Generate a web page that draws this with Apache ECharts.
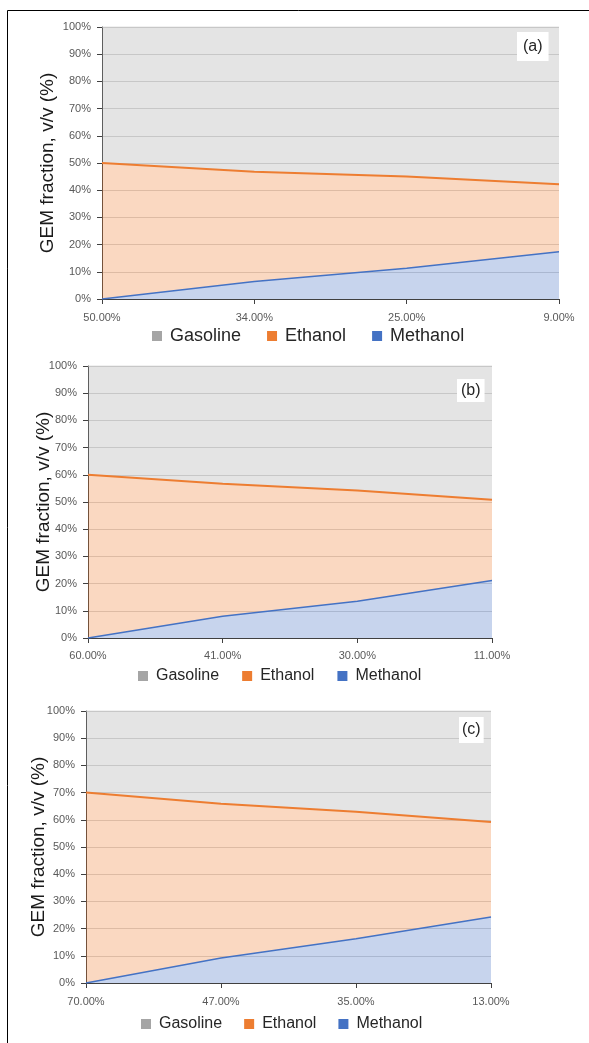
<!DOCTYPE html>
<html>
<head>
<meta charset="utf-8">
<script src="https://cdn.jsdelivr.net/npm/echarts@6/dist/echarts.min.js"></script>
<style>
html,body{margin:0;padding:0;background:#fff;}
#c{width:589px;height:1043px;}
</style>
</head>
<body>
<div id="c"></div>
<script>
// ---- data (percent, v/v) ----
const seriesNames = ['Gasoline', 'Ethanol', 'Methanol'];
const yTicks = [0, 10, 20, 30, 40, 50, 60, 70, 80, 90, 100];

const catsA = ['50.00%', '34.00%', '25.00%', '9.00%'];
const methanolA = [0, 6.4, 11.3, 17.4];
const ethanolA = [50, 40.4, 33.7, 24.8];
const gasolineA = [50, 53.2, 55.0, 57.8];

const catsB = ['60.00%', '41.00%', '30.00%', '11.00%'];
const methanolB = [0, 8.0, 13.5, 21.1];
const ethanolB = [60, 48.7, 40.7, 29.7];
const gasolineB = [40, 43.3, 45.8, 49.2];

const catsC = ['70.00%', '47.00%', '35.00%', '13.00%'];
const methanolC = [0, 9.2, 16.3, 24.3];
const ethanolC = [70, 56.7, 46.7, 34.9];
const gasolineC = [30, 34.1, 37.0, 40.8];

const panelLabels = ['(a)', '(b)', '(c)'];

// ---- styling / layout ----
const FONT = '"Liberation Sans", Arial, sans-serif';
const colors = { Gasoline: '#a5a5a5', Ethanol: '#ed7d31', Methanol: '#4472c4' };

const panels = [
  { cats: catsA, m: methanolA, e: ethanolA, g: gasolineA,
    grid: { left: 102, top: 27, width: 457, height: 272 },
    nameGap: 45, legendTop: 327, legendLeft: 152, legendFont: 18, legendGap: 26, xMargin: 13,
    label: { left: 517, top: 32, padding: [7, 6, 6, 6] } },
  { cats: catsB, m: methanolB, e: ethanolB, g: gasolineB,
    grid: { left: 88, top: 366, width: 404, height: 272 },
    nameGap: 35, legendTop: 668, legendLeft: 138, legendFont: 16, legendGap: 23, xMargin: 12,
    label: { left: 457, top: 379, padding: [4, 4, 3, 4] } },
  { cats: catsC, m: methanolC, e: ethanolC, g: gasolineC,
    grid: { left: 86, top: 711, width: 405, height: 272 },
    nameGap: 38, legendTop: 1016, legendLeft: 141, legendFont: 16, legendGap: 22, xMargin: 13,
    label: { left: 459, top: 717, padding: [5, 3, 5, 3] } }
];

const option = {
  animation: false,
  backgroundColor: '#fff',
  textStyle: { fontFamily: FONT },
  grid: [], xAxis: [], yAxis: [], series: [], legend: [], title: [],
  graphic: [{
    type: 'rect', silent: true,
    shape: { x: 7.5, y: 10.5, width: 700, height: 1200 },
    style: { fill: 'none', stroke: '#000', lineWidth: 1 }
  }]
};

panels.forEach((p, i) => {
  option.grid.push(p.grid);
  option.xAxis.push({
    type: 'category', gridIndex: i, data: p.cats, boundaryGap: false,
    axisLine: { show: true, lineStyle: { color: '#404040', width: 1 } },
    axisTick: { show: true, length: 5, lineStyle: { color: '#404040' } },
    axisLabel: { color: '#595959', fontSize: 11, margin: p.xMargin, fontFamily: FONT },
    splitLine: { show: false }
  });
  option.yAxis.push({
    type: 'value', gridIndex: i, min: 0, max: 100, interval: 10,
    name: 'GEM fraction, v/v (%)', nameLocation: 'middle', nameGap: p.nameGap,
    nameMoveOverlap: false,
    nameTextStyle: { fontSize: 19, color: '#1a1a1a', fontFamily: FONT },
    axisLine: { show: true, lineStyle: { color: '#404040', width: 1 } },
    axisTick: { show: true, length: 5, lineStyle: { color: '#404040' } },
    axisLabel: { color: '#595959', fontSize: 11, margin: 11, fontFamily: FONT,
      formatter: v => yTicks.includes(v) ? v + '%' : '' },
    splitLine: { show: true, lineStyle: { color: '#d6d6d6', width: 1 } }
  });
  const stack = 'S' + i;
  const mk = (name, data, lw) => ({
    name, type: 'line', xAxisIndex: i, yAxisIndex: i, stack, data,
    symbol: 'none', smooth: false,
    itemStyle: { color: colors[name] },
    lineStyle: { color: name === 'Gasoline' ? '#c8c8c8' : colors[name], width: lw },
    areaStyle: { color: colors[name], opacity: 0.3 }
  });
  option.series.push(mk('Methanol', p.m, 1.5));
  option.series.push(mk('Ethanol', p.e, 2));
  option.series.push(mk('Gasoline', p.g, 1));
  option.legend.push({
    data: seriesNames, left: p.legendLeft, top: p.legendTop, padding: 0,
    icon: 'rect', itemWidth: 10, itemHeight: 10, itemGap: p.legendGap,
    textStyle: { fontSize: p.legendFont, color: '#262626', fontFamily: FONT, padding: [0, 0, 0, 3] },
    selectedMode: false
  });
  option.title.push({
    text: panelLabels[i], left: p.label.left, top: p.label.top,
    backgroundColor: '#ffffff', padding: p.label.padding,
    textStyle: { fontSize: 16, fontWeight: 'normal', color: '#262626', fontFamily: FONT }
  });
});

const chart = echarts.init(document.getElementById('c'), null, { renderer: 'canvas' });
chart.setOption(option);
</script>
</body>
</html>
